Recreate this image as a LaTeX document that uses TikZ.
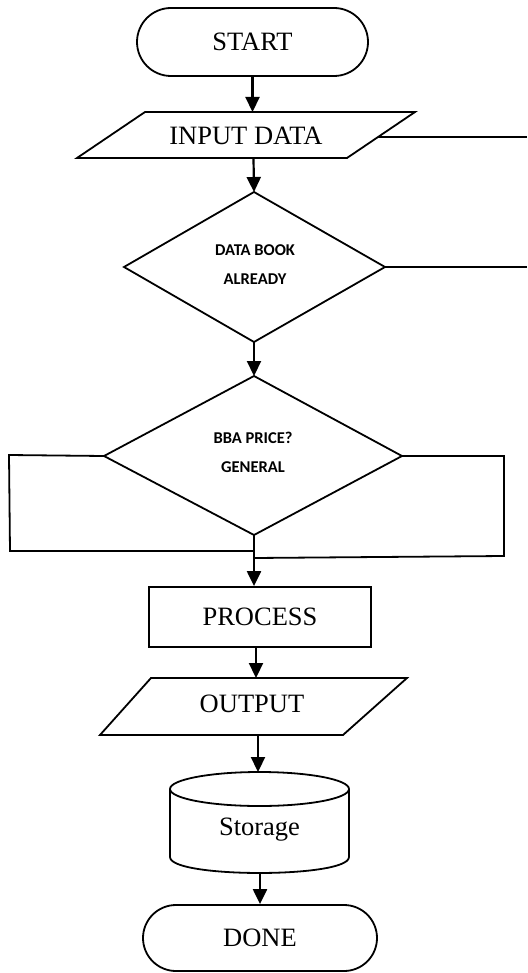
\documentclass[tikz,border=0pt]{standalone}
\usepackage{fontspec}
\setmainfont{Liberation Serif}
\newfontfamily\calib{Carlito}
\usetikzlibrary{arrows.meta}
\begin{document}
\begin{tikzpicture}[x=1pt,y=-1pt, line width=1.8pt,
  arr/.style={-{Triangle[length=15pt,width=14pt]}, line width=2.2pt},
  lbl/.style={font=\fontsize{26.5}{28}\selectfont, inner sep=0pt},
  dlbl/.style={font=\calib\bfseries\fontsize{16.5}{18}\selectfont, inner sep=0pt},
  shp/.style={draw, line width=1.8pt, line join=miter},
  term/.style={draw, line width=1.8pt, lbl}]
\useasboundingbox (0,0) rectangle (527,973);
\fill[white] (0,0) rectangle (527,973);

% START
\node[term, rounded corners=34pt, minimum width=231pt, minimum height=68pt] (start) at (252.5,42) {START};

% INPUT DATA
\draw[shp] (145,112) -- (415,112) -- (347,158) -- (77,158) -- cycle;
\node[lbl] (in) at (246,136) {INPUT DATA};
\coordinate (inT) at (252.5,112);
\coordinate (inB) at (253.5,158);
\coordinate (inR) at (378,137);
\coordinate (edge1) at (527,137);

% Decision 1
\coordinate (d1T) at (254,192);
\coordinate (d1R) at (385,267);
\coordinate (d1B) at (254,342);
\coordinate (d1L) at (124,267);
\coordinate (edge2) at (527,267);
\draw[shp] (d1T) -- (d1R) -- (d1B) -- (d1L) -- cycle;
\node[dlbl] (d1a) at (255,250) {DATA BOOK};
\node[dlbl] (d1b) at (255,279) {ALREADY};

% Decision 2
\coordinate (d2T) at (254,376);
\coordinate (d2R) at (402,456);
\coordinate (d2B) at (254,535);
\coordinate (d2L) at (104,456);
\draw[shp] (d2T) -- (d2R) -- (d2B) -- (d2L) -- cycle;
\node[dlbl] (d2a) at (253,438) {BBA PRICE?};
\node[dlbl] (d2b) at (253,467) {GENERAL};
\coordinate (lp1) at (9,455);
\coordinate (lp2) at (10,551);
\coordinate (lp3) at (254,551);
\coordinate (rp1) at (504,456);
\coordinate (rp2) at (504,556);
\coordinate (rp3) at (254,558);

% PROCESS
\node[draw, line width=1.8pt, lbl, minimum width=222pt, minimum height=60pt] (proc) at (260,617) {PROCESS};

% OUTPUT
\draw[shp] (151,678) -- (407,678) -- (343,735) -- (100,735) -- cycle;
\node[lbl] (out) at (252,704) {OUTPUT};
\coordinate (outT) at (256,678);
\coordinate (outB) at (258,735);

% Storage
\draw[line width=1.8pt] (259.5,789) ellipse [x radius=89.5pt, y radius=17pt];
\draw[line width=1.8pt] (170,789) -- (170,857) .. controls (170,878.3) and (349,878.3) .. (349,857) -- (349,789);
\node[lbl] (stor) at (259.5,830) {Storage};
\coordinate (storT) at (258,772);
\coordinate (storB) at (260,873);

% DONE
\node[term, rounded corners=33pt, minimum width=234pt, minimum height=66pt] (done) at (260,938) {DONE};

% connectors
\draw[arr] (start.south) -- (inT);
\draw[arr] (inB) -- (d1T);
\draw[arr] (d1B) -- (d2T);
\draw[arr] (d2B) -- (d2B |- proc.north);
\draw[arr] (proc.south -| outT) -- (outT);
\draw[arr] (outB) -- (storT);
\draw[arr] (storB) -- (storB |- done.north);
\draw (inR) -- (edge1);
\draw (d1R) -- (edge2);
\draw (d2L) -- (lp1) -- (lp2) -- (lp3);
\draw (d2R) -- (rp1) -- (rp2) -- (rp3);
\end{tikzpicture}
\end{document}
